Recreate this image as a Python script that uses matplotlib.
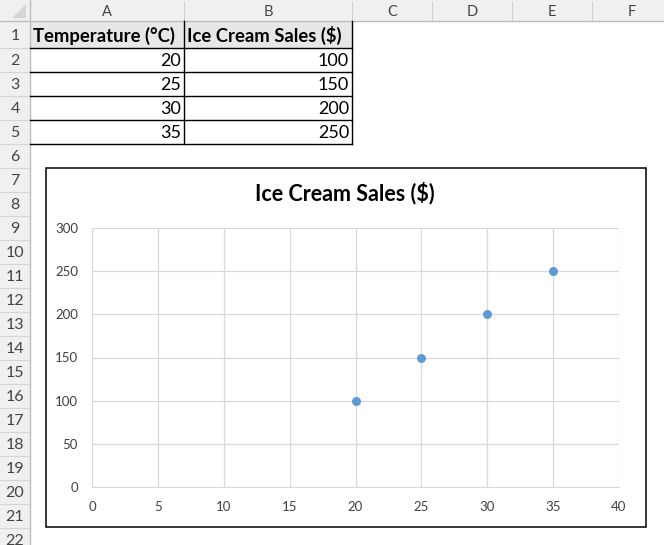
import matplotlib
matplotlib.use("Agg")
import matplotlib.pyplot as plt
from matplotlib.patches import Rectangle, Polygon

plt.rcParams['font.family'] = ['Lato', 'DejaVu Sans']

# datos de la hoja
headers = ["Temperature (°C)", "Ice Cream Sales ($)"]
temperature = [20, 25, 30, 35]
sales = [100, 150, 200, 250]
chart_title = "Ice Cream Sales ($)"
col_letters = ["A", "B", "C", "D", "E", "F"]
x_ticks = [0, 5, 10, 15, 20, 25, 30, 35, 40]
y_ticks = [0, 50, 100, 150, 200, 250, 300]

W, H = 664, 545
fig = plt.figure(figsize=(W / 100, H / 100), dpi=100)

# fondo: la hoja de calculo en coordenadas de pixel
bg = fig.add_axes([0, 0, 1, 1])
bg.set_xlim(0, W)
bg.set_ylim(H, 0)
bg.axis("off")

col_edges = [30, 184, 352, 432, 512, 592, 672]
head_h = 21
row_top = [head_h, 48] + [48 + 24 * i for i in range(1, 22)]
row_bot = row_top[1:] + [row_top[-1] + 24]

# encabezado de columnas
bg.add_patch(Rectangle((0, 0), W, head_h, color="#F0F0F0", lw=0))
bg.add_patch(Rectangle((0, 0), 30, H, color="#F0F0F0", lw=0))
for i, letter in enumerate(col_letters):
    xc = (col_edges[i] + col_edges[i + 1]) / 2
    bg.text(xc, head_h / 2 + 1, letter, ha="center", va="center",
            fontsize=10.5, color="#444444")
    bg.plot([col_edges[i + 1]] * 2, [2, head_h], color="#D0D0D0", lw=0.8)
bg.plot([0, W], [head_h, head_h], color="#BDBDBD", lw=1)
bg.plot([29.5, 29.5], [0, H], color="#BDBDBD", lw=1)
bg.add_patch(Polygon([[26, 4], [26, 18], [12, 18]], closed=True, color="#D6D6D6", lw=0))

# numeros de fila
for i in range(len(row_top)):
    yc = (row_top[i] + row_bot[i]) / 2
    bg.text(15, yc + 1, str(i + 1), ha="center", va="center",
            fontsize=11.5, color="#444444")
    bg.plot([0, 29], [row_bot[i], row_bot[i]], color="#D6D6D6", lw=0.8)

# tabla
bg.add_patch(Rectangle((30, row_top[0]), 322, row_bot[0] - row_top[0],
                       color="#E7E7E7", lw=0))
bg.text(33, (row_top[0] + row_bot[0]) / 2 + 1, headers[0], ha="left", va="center",
        fontsize=13.3, fontweight="bold", color="black")
bg.text(187, (row_top[0] + row_bot[0]) / 2 + 1, headers[1], ha="left", va="center",
        fontsize=13.3, fontweight="bold", color="black")
for i, (t, s) in enumerate(zip(temperature, sales)):
    yc = (row_top[i + 1] + row_bot[i + 1]) / 2 + 1
    bg.text(181, yc, str(t), ha="right", va="center", fontsize=13, color="black")
    bg.text(349, yc, str(s), ha="right", va="center", fontsize=13, color="black")
for i in range(len(temperature) + 1):
    bg.plot([30, 352], [row_bot[i], row_bot[i]], color="black", lw=1)
bg.plot([184, 184], [head_h, row_bot[len(temperature)]], color="black", lw=1)
bg.plot([352, 352], [head_h, row_bot[len(temperature)]], color="black", lw=1)

# area del grafico
bg.add_patch(Rectangle((45.5, 167.5), 600, 359, facecolor="white",
                       edgecolor="black", lw=1.1))
bg.text(345, 193, chart_title, ha="center", va="center",
        fontsize=15.5, fontweight="bold", color="black")

ax = fig.add_axes([92 / W, (H - 487) / H, (619 - 92) / W, (487 - 228) / H])
ax.set_facecolor("none")
ax.scatter(temperature, sales, s=42, color="#5B9BD5", zorder=3, linewidths=0)
ax.set_xlim(0, 40)
ax.set_ylim(0, 300)
ax.set_xticks(x_ticks)
ax.set_yticks(y_ticks)
ax.grid(True, color="#D9D9D9", lw=0.9)
ax.set_axisbelow(True)
for side in ["top", "right", "left"]:
    ax.spines[side].set_visible(False)
ax.spines["bottom"].set_color("#D9D9D9")
ax.tick_params(length=0, labelsize=9.5, colors="#404040", pad=10)

fig.savefig("out.png", dpi=100)
